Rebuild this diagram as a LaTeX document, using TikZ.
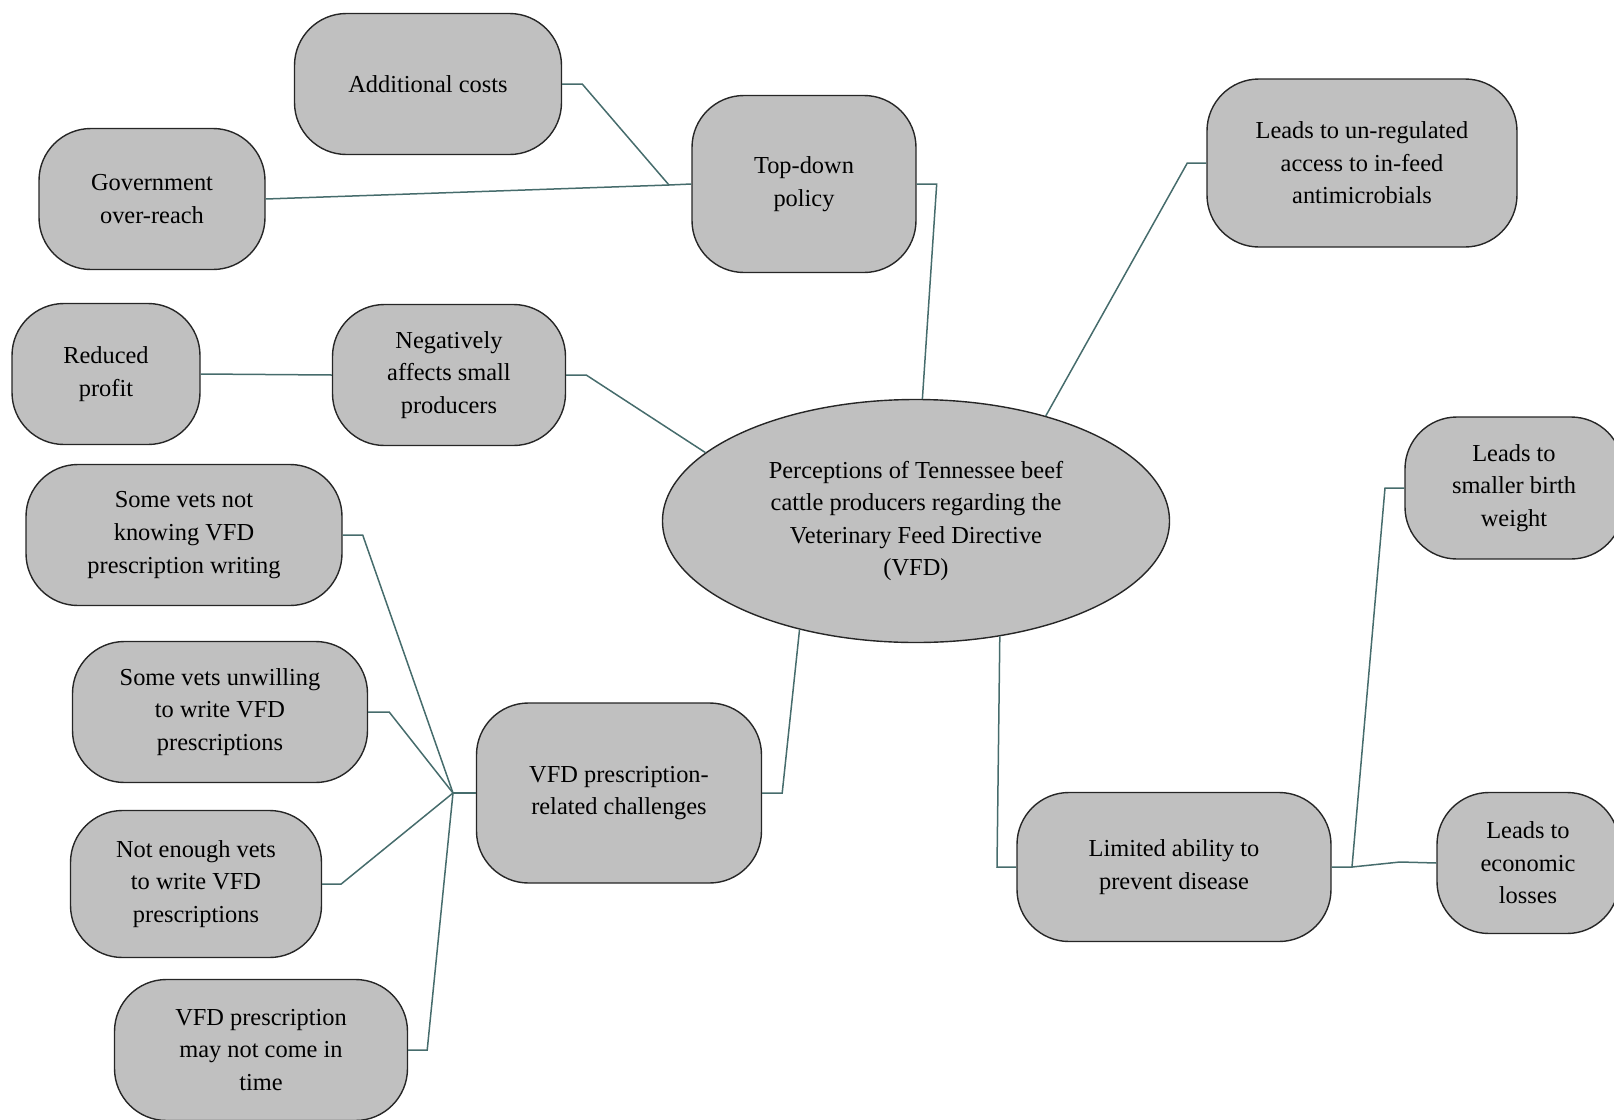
\documentclass[tikz,border=0pt]{standalone}
\usepackage{fontspec}
\setmainfont{Liberation Serif}
\usetikzlibrary{shapes.geometric}
\definecolor{boxgray}{RGB}{192,192,192}
\definecolor{linkteal}{RGB}{70,108,108}

\begin{document}
\begin{tikzpicture}[
  x=0.5pt, y=-0.5pt,
  every node/.style={font=\fontsize{12.2}{16.3}\selectfont, align=center},
  bubble/.style={draw=black!85, line width=0.7pt, fill=boxgray, rounded corners=26pt, inner sep=0pt},
  core/.style={draw=black!85, line width=0.7pt, fill=boxgray, ellipse, inner sep=0pt},
  link/.style={draw=linkteal, line width=0.75pt}
]
\useasboundingbox (0,0) rectangle (1614,1120);

% Nodes
\node[core, minimum width=253.5pt, minimum height=121.5pt] (vfd) at (916,521)
  {Perceptions of Tennessee beef\\cattle producers regarding the\\Veterinary Feed Directive\\(VFD)};
% Top-down branch
\node[bubble, minimum width=112pt, minimum height=88.5pt] (topdown) at (804,184) {Top-down\\policy};
\node[bubble, minimum width=133.5pt, minimum height=70.5pt] (addcost) at (428,84) {Additional costs};
\node[bubble, minimum width=113pt, minimum height=70.5pt] (govt) at (152,199) {Government\\over-reach};
% Access branch
\node[bubble, minimum width=155pt, minimum height=84pt] (unreg) at (1362,163)
  {Leads to un-regulated\\access to in-feed\\antimicrobials};
% Small producers branch
\node[bubble, minimum width=116.5pt, minimum height=70.5pt] (negaff) at (449,375) {Negatively\\affects small\\producers};
\node[bubble, minimum width=94pt, minimum height=70.5pt] (profit) at (106,374) {Reduced\\profit};
% Prescription branch
\node[bubble, minimum width=142.5pt, minimum height=90pt] (challenge) at (619,793) {VFD prescription-\\related challenges};
\node[bubble, minimum width=158pt, minimum height=70.5pt] (knowing) at (184,535)
  {Some vets not\\knowing VFD\\prescription writing};
\node[bubble, minimum width=147.5pt, minimum height=70.5pt] (unwilling) at (220,712)
  {Some vets unwilling\\to write VFD\\prescriptions};
\node[bubble, minimum width=125.5pt, minimum height=73.5pt] (enough) at (196,884)
  {Not enough vets\\to write VFD\\prescriptions};
\node[bubble, minimum width=146.5pt, minimum height=70.5pt] (intime) at (261,1050)
  {VFD prescription\\may not come in\\time};
% Disease branch
\node[bubble, minimum width=157pt, minimum height=74.5pt] (disease) at (1174,867) {Limited ability to\\prevent disease};
\node[bubble, minimum width=109pt, minimum height=71pt] (birth) at (1514,488) {Leads to\\smaller birth\\weight};
\node[bubble, minimum width=91pt, minimum height=70.5pt] (econ) at (1528,863) {Leads to\\economic\\losses};

% Junctions
\coordinate (tdjoin) at (669,185);
\coordinate (rxhub) at (453,793);
\coordinate (lajoin) at (1352,867);

% Edges
\draw[link] (addcost.east) -- ++(20,0) -- (tdjoin) -- (topdown.west);
\draw[link] (govt.east) -- (tdjoin);
\draw[link] (topdown.east) -- ++(20,0) -- (vfd.87);
\draw[link] (unreg.west) -- ++(-19,0) -- (vfd.39);
\draw[link] (profit.east) -- (negaff.west);
\draw[link] (negaff.east) -- ++(20,0) -- (vfd.162);

\draw[link] (knowing.east) -- ++(20,0) -- (rxhub);
\draw[link] (unwilling.east) -- ++(21,0) -- (rxhub);
\draw[link] (enough.east) -- ++(19,0) -- (rxhub);
\draw[link] (intime.east) -- ++(19,0) -- (rxhub);
\draw[link] (rxhub) -- (challenge.west);
\draw[link] (challenge.east) -- ++(20,0) -- (vfd.223);

\draw[link] (vfd.306) -- (997,867) -- (disease.west);
\draw[link] (disease.east) -- (lajoin) -- (1385,488) -- (birth.west);
\draw[link] (lajoin) -- (1400,862) -- (econ.west);
\end{tikzpicture}
\end{document}
